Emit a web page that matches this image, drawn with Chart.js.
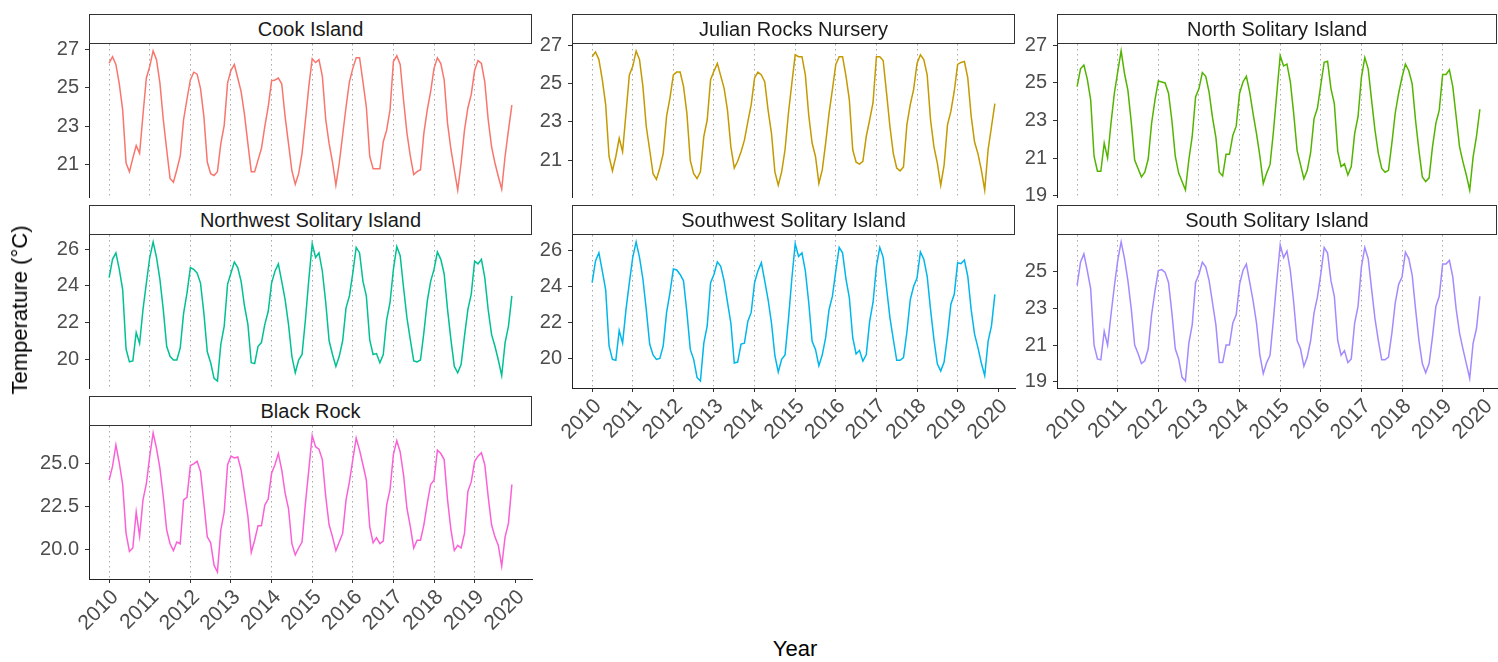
<!DOCTYPE html>
<html>
<head>
<meta charset="utf-8">
<script src="https://cdn.jsdelivr.net/npm/chart.js@4.4.1/dist/chart.umd.min.js"></script>
<style>
  html, body { margin: 0; padding: 0; background: #ffffff; }
  #wrap { position: relative; width: 1498px; height: 662px; overflow: hidden; background: #ffffff;
          font-family: "Liberation Sans", Arial, Helvetica, sans-serif; }
  #wrap canvas { position: absolute; }
  .strip { position: absolute; box-sizing: border-box; height: 30px; border: 1.5px solid #333333;
           background: #ffffff; color: #1a1a1a; font-size: 20px; display: flex; align-items: center;
           justify-content: center; z-index: 2; white-space: nowrap; }
  .axis-title { position: absolute; color: #000000; font-size: 22px; line-height: 22px; white-space: nowrap; z-index: 3; }
</style>
</head>
<body>
<div id="wrap"></div>
<script>
// Monthly mean sea temperature (°C), Jan 2010 – Dec 2019, one array per site.
const firstYear = 2010;

const cookIsland = [
  26.27, 26.6, 26.2, 25.2, 23.85, 21.1, 20.65, 21.35, 22.0, 21.6, 23.6, 25.5,
  26.1, 26.9, 26.45, 25.25, 23.35, 21.8, 20.3, 20.1, 20.75, 21.45, 23.35, 24.4,
  25.4, 25.8, 25.7, 24.95, 23.5, 21.15, 20.55, 20.45, 20.65, 22.1, 23.05, 25.25,
  25.9, 26.2, 25.5, 24.8, 23.6, 22.1, 20.65, 20.65, 21.25, 21.85, 23.0, 24.0,
  25.35, 25.4, 25.5, 25.2, 23.5, 22.1, 20.7, 20.0, 20.55, 21.6, 23.3, 25.05,
  26.5, 26.3, 26.45, 25.6, 23.35, 22.1, 21.15, 19.95, 21.1, 22.55, 24.0, 25.3,
  26.0, 26.55, 26.55, 25.3, 24.0, 21.45, 20.8, 20.8, 20.8, 22.2, 22.8, 23.85,
  26.35, 26.65, 26.2, 24.35, 22.65, 21.45, 20.5, 20.65, 20.75, 22.65, 23.85, 24.8,
  26.0, 26.55, 26.25, 25.4, 23.15, 21.8, 20.75, 19.7, 21.1, 22.8, 23.95, 24.65,
  25.9, 26.4, 26.25, 25.3, 23.35, 21.95, 21.1, 20.4, 19.75, 21.45, 22.8, 24.1
];

const julianRocks = [
  26.4, 26.65, 26.25, 25.2, 23.9, 21.2, 20.45, 21.2, 22.15, 21.45, 23.45, 25.45,
  25.9, 26.7, 26.25, 24.85, 22.75, 21.55, 20.3, 20.0, 20.6, 21.35, 23.3, 24.25,
  25.45, 25.6, 25.6, 24.85, 23.45, 21.0, 20.3, 20.05, 20.4, 22.25, 23.1, 25.2,
  25.65, 26.05, 25.4, 24.75, 23.6, 21.7, 20.6, 20.95, 21.45, 22.05, 23.0, 23.9,
  25.3, 25.6, 25.45, 25.1, 23.6, 22.4, 20.4, 19.7, 20.4, 21.55, 23.45, 25.0,
  26.5, 26.4, 26.4, 25.45, 23.35, 21.9, 21.2, 19.8, 20.5, 21.9, 23.45, 24.7,
  26.0, 26.4, 26.4, 25.4, 24.15, 21.55, 20.9, 20.8, 20.95, 22.25, 23.1, 24.0,
  26.4, 26.4, 26.2, 24.5, 22.75, 21.35, 20.6, 20.45, 20.65, 22.85, 23.9, 24.7,
  26.05, 26.5, 26.25, 25.45, 23.1, 21.7, 20.85, 19.7, 20.75, 22.85, 23.55, 24.6,
  26.0, 26.1, 26.15, 25.3, 23.3, 21.95, 21.35, 20.5, 19.45, 21.55, 22.75, 23.95
];

const northSolitary = [
  24.8, 25.75, 25.95, 25.2, 24.1, 21.1, 20.3, 20.3, 21.8, 21.0, 22.85, 24.45,
  25.6, 26.7, 25.5, 24.6, 22.9, 20.9, 20.45, 20.0, 20.25, 20.95, 22.85, 24.1,
  25.1, 25.05, 25.0, 24.45, 23.0, 21.1, 20.2, 19.75, 19.3, 20.9, 22.15, 24.25,
  24.7, 25.55, 25.35, 24.5, 23.15, 22.1, 20.25, 20.05, 21.2, 21.2, 22.2, 22.7,
  24.45, 25.05, 25.35, 24.5, 23.35, 22.3, 21.1, 19.65, 20.2, 20.65, 22.4, 24.45,
  26.45, 25.9, 26.0, 25.05, 23.35, 21.4, 20.65, 19.9, 20.35, 21.3, 23.1, 23.65,
  24.9, 26.1, 26.15, 24.7, 23.9, 21.35, 20.55, 20.7, 20.1, 20.55, 22.3, 23.2,
  25.3, 26.35, 25.75, 24.1, 22.5, 21.25, 20.45, 20.25, 20.35, 21.8, 23.4, 24.45,
  25.3, 26.0, 25.65, 24.95, 23.0, 21.4, 20.0, 19.75, 19.95, 21.6, 22.85, 23.55,
  25.45, 25.45, 25.7, 24.8, 23.2, 21.6, 20.8, 20.1, 19.3, 21.05, 22.15, 23.6
];

const northwestSolitary = [
  24.45, 25.45, 25.8, 24.9, 23.8, 20.55, 19.85, 19.9, 21.45, 20.85, 22.7, 24.15,
  25.55, 26.4, 25.55, 24.35, 22.7, 20.7, 20.15, 19.95, 19.95, 20.6, 22.5, 23.6,
  25.0, 24.9, 24.7, 24.15, 22.5, 20.4, 19.8, 18.95, 18.8, 20.8, 21.8, 24.1,
  24.7, 25.3, 25.0, 24.25, 22.9, 21.9, 19.8, 19.75, 20.7, 20.9, 21.9, 22.6,
  24.15, 24.8, 25.2, 24.25, 23.25, 21.9, 20.15, 19.25, 19.95, 20.25, 22.15, 24.35,
  26.3, 25.55, 25.8, 24.8, 23.1, 21.0, 20.25, 19.6, 20.15, 21.0, 22.8, 23.45,
  24.7, 26.1, 25.8, 24.25, 23.45, 21.05, 20.25, 20.3, 19.8, 20.25, 22.15, 23.1,
  24.9, 26.15, 25.65, 23.9, 22.25, 21.05, 19.9, 19.85, 19.95, 21.45, 23.15, 24.25,
  24.9, 25.85, 25.45, 24.65, 22.7, 21.05, 19.6, 19.25, 19.7, 21.25, 22.7, 23.55,
  25.35, 25.2, 25.45, 24.45, 22.7, 21.35, 20.7, 19.95, 19.1, 20.9, 21.8, 23.45
];

const southwestSolitary = [
  24.2, 25.4, 25.85, 24.85, 23.8, 20.7, 19.95, 19.9, 21.55, 20.85, 22.7, 24.2,
  25.6, 26.45, 25.6, 24.4, 22.7, 20.8, 20.2, 19.95, 20.0, 20.7, 22.55, 23.65,
  24.95, 24.9, 24.65, 24.3, 22.55, 20.5, 19.95, 18.95, 18.75, 20.85, 21.8, 24.2,
  24.65, 25.35, 25.1, 24.3, 23.1, 21.95, 19.75, 19.8, 20.8, 20.85, 22.05, 22.55,
  24.2, 24.85, 25.3, 24.3, 23.25, 21.95, 20.15, 19.25, 19.95, 20.2, 22.15, 24.4,
  26.35, 25.65, 25.85, 24.85, 23.1, 20.95, 20.5, 19.6, 20.2, 21.15, 22.7, 23.45,
  24.85, 26.15, 25.85, 24.4, 23.35, 21.15, 20.25, 20.45, 19.85, 20.2, 22.05, 23.1,
  25.1, 26.15, 25.6, 23.9, 22.25, 21.05, 19.9, 19.9, 20.05, 21.45, 23.25, 24.0,
  24.45, 25.9, 25.5, 24.55, 22.7, 21.05, 19.7, 19.3, 19.8, 21.25, 23.0, 23.55,
  25.3, 25.25, 25.45, 24.55, 22.7, 21.35, 20.6, 19.75, 19.05, 20.95, 21.8, 23.55
];

const southSolitary = [
  24.25, 25.5, 25.95, 25.05, 24.05, 21.0, 20.25, 20.2, 21.75, 21.0, 22.65, 24.2,
  25.6, 26.6, 25.7, 24.5, 22.95, 21.0, 20.55, 20.0, 20.15, 20.8, 22.65, 23.95,
  25.05, 25.1, 24.95, 24.4, 22.75, 20.8, 20.25, 19.25, 19.05, 21.1, 22.1, 24.4,
  24.85, 25.5, 25.25, 24.5, 23.3, 22.1, 20.05, 20.05, 21.0, 21.0, 22.2, 22.65,
  24.3, 25.05, 25.4, 24.4, 23.4, 22.2, 20.45, 19.45, 20.05, 20.45, 22.4, 24.5,
  26.45, 25.75, 26.1, 25.05, 23.3, 21.25, 20.8, 19.85, 20.35, 21.25, 22.75, 23.6,
  24.85, 26.3, 26.0, 24.5, 23.65, 21.25, 20.45, 20.7, 20.05, 20.25, 22.2, 23.1,
  25.25, 26.3, 25.7, 24.05, 22.45, 21.25, 20.2, 20.2, 20.35, 21.65, 23.3, 24.3,
  24.7, 26.05, 25.7, 24.8, 22.95, 21.25, 20.0, 19.5, 20.0, 21.45, 23.1, 23.65,
  25.4, 25.4, 25.6, 24.7, 22.95, 21.65, 20.8, 20.0, 19.2, 21.1, 21.9, 23.65
];

const blackRock = [
  24.05, 24.85, 26.1, 25.05, 23.8, 20.95, 19.9, 20.1, 22.2, 20.8, 22.9, 23.85,
  25.45, 26.8, 25.9, 24.75, 23.1, 21.15, 20.35, 19.95, 20.45, 20.35, 22.9, 23.05,
  24.9, 25.0, 25.15, 24.55, 22.7, 20.75, 20.4, 19.1, 18.7, 21.15, 22.2, 24.95,
  25.45, 25.35, 25.4, 24.65, 23.3, 21.95, 19.85, 20.55, 21.4, 21.4, 22.6, 22.95,
  24.45, 24.95, 25.6, 24.65, 23.3, 22.4, 20.35, 19.7, 20.1, 20.45, 22.7, 24.65,
  26.65, 26.0, 25.85, 25.25, 23.1, 21.45, 20.75, 19.95, 20.45, 20.95, 22.9, 23.95,
  25.25, 26.5, 25.8, 24.95, 24.05, 21.35, 20.4, 20.7, 20.35, 20.5, 22.6, 23.5,
  25.55, 26.35, 25.7, 24.35, 22.4, 21.35, 20.1, 20.55, 20.55, 21.45, 22.7, 23.8,
  24.05, 25.8, 25.6, 25.25, 22.9, 21.15, 19.95, 20.25, 20.1, 20.95, 23.4, 23.95,
  25.15, 25.45, 25.65, 24.95, 23.1, 21.45, 20.75, 20.25, 19.05, 20.75, 21.55, 23.8
];

// Axis tick labels
const yearTicks = [2010, 2011, 2012, 2013, 2014, 2015, 2016, 2017, 2018, 2019, 2020];
const yearLines = [2010, 2011, 2012, 2013, 2014, 2015, 2016, 2017, 2018, 2019];
const cookTicks      = ['21', '23', '25', '27'];
const julianTicks    = ['21', '23', '25', '27'];
const northTicks     = ['19', '21', '23', '25', '27'];
const northwestTicks = ['20', '22', '24', '26'];
const southwestTicks = ['20', '22', '24', '26'];
const southTicks     = ['19', '21', '23', '25'];
const blackRockTicks = ['20.0', '22.5', '25.0'];

// Decimal-year position of each monthly value
const monthX = cookIsland.map((_, i) => firstYear + i / 12);

// ---- facet grid geometry ----
const FONT = '"Liberation Sans", Arial, Helvetica, sans-serif';
const COL_LEFT = [89, 572, 1057];
const COL_STRIP_W = [443, 443, 440];
const PLOT_W = 443;
const STRIP_TOP = [14, 205, 396];
const STRIP_H = 30;
const PLOT_H = 153;
const Y_AXIS_W = 89;
const PAD_T = 20, PAD_R = 14, PAD_B = 20;
const X_AXIS_H = 75;

const panels = [
  { name: 'Cook Island',               values: cookIsland,        ticks: cookTicks,      color: '#F8766D', col: 0, row: 0, xAxis: false },
  { name: 'Julian Rocks Nursery',      values: julianRocks,       ticks: julianTicks,    color: '#C49A00', col: 1, row: 0, xAxis: false },
  { name: 'North Solitary Island',     values: northSolitary,     ticks: northTicks,     color: '#53B400', col: 2, row: 0, xAxis: false },
  { name: 'Northwest Solitary Island', values: northwestSolitary, ticks: northwestTicks, color: '#00C094', col: 0, row: 1, xAxis: false },
  { name: 'Southwest Solitary Island', values: southwestSolitary, ticks: southwestTicks, color: '#00B6EB', col: 1, row: 1, xAxis: true },
  { name: 'South Solitary Island',     values: southSolitary,     ticks: southTicks,     color: '#A58AFF', col: 2, row: 1, xAxis: true },
  { name: 'Black Rock',                values: blackRock,         ticks: blackRockTicks, color: '#FB61D7', col: 0, row: 2, xAxis: true }
];

// shared x range: data span plus 5% either side
const xLo = monthX[0], xHi = monthX[monthX.length - 1];
const xPad = (xHi - xLo) * 0.05;
const X_MIN = xLo - xPad, X_MAX = xHi + xPad;

const wrap = document.getElementById('wrap');

function addStrip(p) {
  const d = document.createElement('div');
  d.className = 'strip';
  d.style.left = COL_LEFT[p.col] + 'px';
  d.style.top = STRIP_TOP[p.row] + 'px';
  d.style.width = COL_STRIP_W[p.col] + 'px';
  d.textContent = p.name;
  wrap.appendChild(d);
}

function addPanel(p) {
  const plotTop = STRIP_TOP[p.row] + STRIP_H;
  const bottomExtra = p.xAxis ? X_AXIS_H : PAD_B;
  const cw = Y_AXIS_W + PLOT_W + PAD_R;
  const ch = PAD_T + PLOT_H + bottomExtra;
  const cv = document.createElement('canvas');
  cv.width = cw; cv.height = ch;
  cv.style.width = cw + 'px'; cv.style.height = ch + 'px';
  cv.style.left = (COL_LEFT[p.col] - Y_AXIS_W) + 'px';
  cv.style.top = (plotTop - PAD_T) + 'px';
  wrap.appendChild(cv);

  // free y scale: data range plus 5% either side
  const lo = Math.min(...p.values), hi = Math.max(...p.values);
  const yPad = (hi - lo) * 0.05;

  new Chart(cv, {
    type: 'line',
    data: {
      datasets: [{
        data: p.values.map((v, i) => ({ x: monthX[i], y: v })),
        borderColor: p.color,
        borderWidth: 1.5,
        pointRadius: 0,
        tension: 0,
        fill: false
      }]
    },
    options: {
      responsive: false,
      animation: false,
      events: [],
      layout: { padding: { top: PAD_T, right: PAD_R, bottom: p.xAxis ? 0 : PAD_B, left: 0 } },
      plugins: { legend: { display: false }, tooltip: { enabled: false } },
      scales: {
        x: {
          type: 'linear',
          min: X_MIN,
          max: X_MAX,
          afterBuildTicks: s => { s.ticks = yearTicks.map(v => ({ value: v })); },
          afterFit: s => { s.height = p.xAxis ? X_AXIS_H : 0; },
          grid: {
            display: true,
            drawOnChartArea: true,
            drawTicks: p.xAxis,
            tickLength: 4,
            tickColor: '#333333',
            tickWidth: 1,
            lineWidth: 1,
            color: c => (c.tick && yearLines.includes(c.tick.value)) ? '#A8A8A8' : 'rgba(0,0,0,0)'
          },
          border: { display: p.xAxis, color: '#222222', width: 1, dash: [1.5, 3.5] },
          ticks: {
            display: p.xAxis,
            autoSkip: false,
            minRotation: 45,
            maxRotation: 45,
            padding: 2,
            labelOffset: 6,
            color: '#4d4d4d',
            font: { family: FONT, size: 21 },
            callback: v => String(v)
          }
        },
        y: {
          type: 'linear',
          min: lo - yPad,
          max: hi + yPad,
          afterBuildTicks: s => { s.ticks = p.ticks.map(t => ({ value: parseFloat(t) })); },
          afterFit: s => { s.width = Y_AXIS_W; },
          grid: { drawOnChartArea: false, drawTicks: true, tickLength: 4, tickColor: '#333333', tickWidth: 1 },
          border: { display: true, color: '#222222', width: 1 },
          ticks: {
            padding: 6,
            color: '#4d4d4d',
            font: { family: FONT, size: 20 },
            callback: (v, i) => p.ticks[i]
          }
        }
      }
    }
  });
}

panels.forEach(p => { addPanel(p); addStrip(p); });

// axis titles
const yTitle = document.createElement('div');
yTitle.className = 'axis-title';
yTitle.textContent = 'Temperature (°C)';
yTitle.style.left = '19.5px';
yTitle.style.top = '310px';
yTitle.style.transform = 'translate(-50%, -50%) rotate(-90deg)';
wrap.appendChild(yTitle);

const xTitle = document.createElement('div');
xTitle.className = 'axis-title';
xTitle.textContent = 'Year';
xTitle.style.left = '795px';
xTitle.style.top = '638px';
xTitle.style.transform = 'translateX(-50%)';
wrap.appendChild(xTitle);
</script>
</body>
</html>
